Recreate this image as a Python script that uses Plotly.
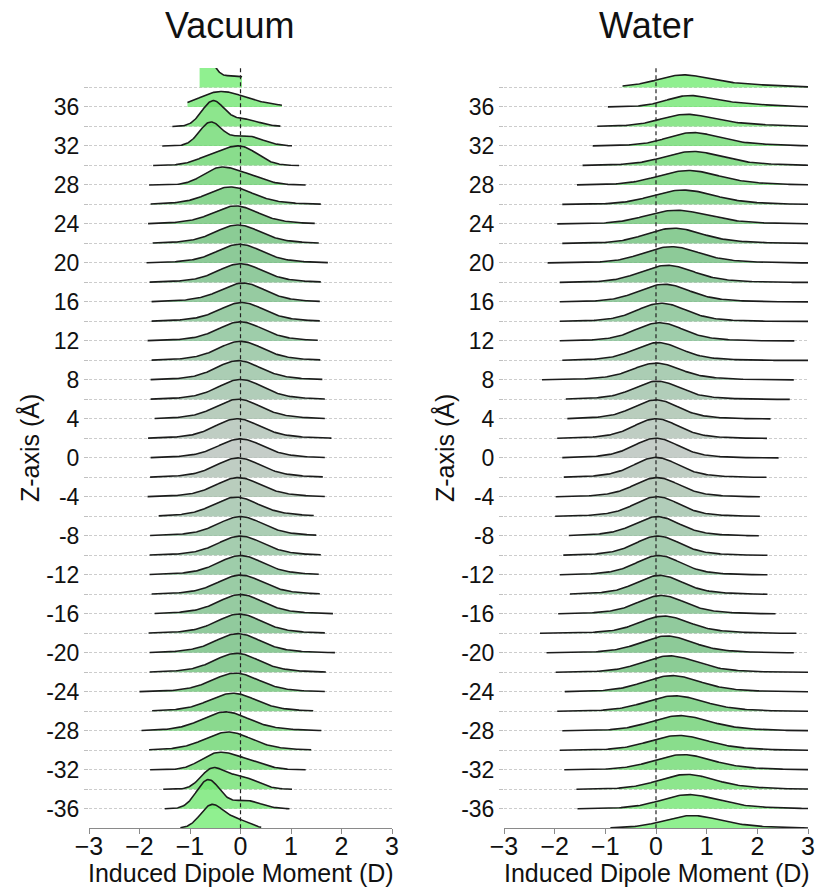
import numpy as np
import plotly.graph_objects as go

# ---------------- data ----------------
Z_LEVELS = list(range(38, -40, -2))          # ridge baselines (Å), top to bottom
Y_TICKS = list(range(-36, 40, 2))
X_TICKS = [-3, -2, -1, 0, 1, 2, 3]

# Vacuum: range of each density curve and its shape (mu, sigma, height in Å units)
VAC_XMIN = [-0.81, -1.05, -1.35, -1.55, -1.73, -1.81, -1.78, -1.83, -1.74, -1.86,
            -1.80, -1.76, -1.76, -1.84, -1.76, -1.78, -1.78, -1.70, -1.83, -1.78,
            -1.79, -1.84, -1.62, -1.79, -1.80, -1.80, -1.76, -1.70, -1.82, -1.80,
            -1.80, -2.00, -1.75, -1.96, -1.81, -1.79, -1.53, -1.50, -1.19]
VAC_XMAX = [0.03, 0.82, 0.79, 1.02, 1.16, 1.29, 1.59, 1.47, 1.55, 1.73,
            1.59, 1.57, 1.57, 1.53, 1.58, 1.62, 1.67, 1.67, 1.80, 1.67,
            1.63, 1.67, 1.45, 1.50, 1.59, 1.55, 1.57, 1.83, 1.67, 1.87,
            1.69, 1.67, 1.44, 1.60, 1.40, 1.29, 1.02, 0.97, 0.41]
VAC_SHAPE = [
    [(-0.75, 0.20, 3.50), (-0.10, 0.30, 1.20)],
    [(-0.45, 0.40, 1.30), (0.10, 0.50, 0.50)],
    [(-0.55, 0.22, 2.55), (0.05, 0.30, 0.75)],
    [(-0.60, 0.22, 2.35), (0.10, 0.33, 1.05)],
    [(0.05, 0.32, 1.65), (-0.50, 0.35, 1.00)],
    [(-0.45, 0.32, 1.50), (0.10, 0.36, 0.90)],
    [(-0.20, 0.40, 1.30), (-0.15, 0.75, 0.50)],
    [(-0.10, 0.40, 1.33), (-0.10, 0.75, 0.52)],
    [(-0.05, 0.40, 1.38), (-0.05, 0.75, 0.52)],
    [(-0.02, 0.40, 1.40), (0.00, 0.75, 0.52)],
    [(0.00, 0.40, 1.40), (0.00, 0.75, 0.52)],
    [(0.05, 0.40, 1.42), (0.00, 0.75, 0.52)],
    [(0.03, 0.40, 1.42), (0.00, 0.75, 0.52)],
    [(0.00, 0.40, 1.43), (0.00, 0.75, 0.53)],
    [(0.00, 0.40, 1.43), (0.00, 0.75, 0.53)],
    [(-0.05, 0.40, 1.45), (0.00, 0.75, 0.53)],
    [(0.00, 0.40, 1.50), (0.00, 0.75, 0.55)],
    [(-0.05, 0.40, 1.47), (0.00, 0.75, 0.55)],
    [(-0.07, 0.40, 1.47), (0.00, 0.75, 0.55)],
    [(0.00, 0.40, 1.42), (0.00, 0.75, 0.53)],
    [(-0.05, 0.40, 1.45), (0.00, 0.75, 0.55)],
    [(-0.05, 0.40, 1.43), (0.00, 0.75, 0.55)],
    [(-0.10, 0.40, 1.43), (0.00, 0.75, 0.55)],
    [(0.00, 0.40, 1.43), (0.00, 0.75, 0.55)],
    [(0.00, 0.40, 1.43), (0.00, 0.75, 0.55)],
    [(0.00, 0.40, 1.43), (0.00, 0.75, 0.55)],
    [(0.00, 0.40, 1.43), (0.00, 0.75, 0.55)],
    [(0.00, 0.40, 1.43), (0.00, 0.75, 0.55)],
    [(-0.03, 0.40, 1.43), (0.00, 0.75, 0.55)],
    [(-0.05, 0.40, 1.42), (-0.05, 0.75, 0.55)],
    [(-0.08, 0.40, 1.42), (-0.05, 0.75, 0.53)],
    [(-0.10, 0.42, 1.40), (-0.10, 0.75, 0.52)],
    [(-0.15, 0.42, 1.35), (-0.15, 0.75, 0.50)],
    [(-0.31, 0.42, 1.40), (-0.20, 0.75, 0.55)],
    [(-0.25, 0.42, 1.38), (-0.20, 0.75, 0.50)],
    [(-0.50, 0.32, 1.40), (0.05, 0.38, 0.95)],
    [(-0.58, 0.22, 1.75), (-0.05, 0.35, 1.35)],
    [(-0.64, 0.23, 2.95), (0.10, 0.30, 0.85)],
    [(-0.58, 0.22, 2.30), (-0.10, 0.25, 0.90)],
]

# Water
WAT_XMIN = [-0.66, -0.95, -1.16, -1.25, -1.45, -1.56, -1.85, -1.95, -1.85, -2.14,
            -1.90, -1.90, -1.90, -1.90, -1.85, -2.25, -1.78, -1.75, -1.95, -1.85,
            -1.82, -1.98, -1.99, -1.72, -1.83, -1.90, -1.70, -1.93, -2.29, -2.16,
            -1.98, -1.80, -1.95, -1.85, -1.90, -1.81, -1.57, -1.55, -0.90]
WAT_XMAX = [3.00, 3.00, 3.00, 3.00, 3.00, 3.00, 3.00, 3.00, 3.00, 3.00,
            3.00, 3.00, 3.00, 2.73, 3.00, 2.72, 2.64, 2.26, 2.19, 2.42,
            2.18, 2.05, 2.05, 2.03, 2.20, 2.20, 2.20, 2.36, 2.77, 2.72,
            3.00, 3.00, 3.00, 3.00, 3.00, 3.00, 3.00, 3.00, 3.00]
WAT_SHAPE = [
    [(0.50, 0.45, 0.85), (1.00, 1.00, 0.50)],
    [(0.60, 0.40, 0.80), (1.20, 0.75, 0.50)],
    [(0.55, 0.45, 0.85), (1.00, 0.85, 0.45)],
    [(0.70, 0.45, 0.95), (1.00, 0.85, 0.45)],
    [(0.70, 0.50, 1.00), (0.90, 0.90, 0.45)],
    [(0.60, 0.55, 1.10), (0.90, 0.90, 0.40)],
    [(0.50, 0.55, 1.10), (0.80, 0.90, 0.40)],
    [(0.37, 0.55, 1.05), (0.70, 0.90, 0.38)],
    [(0.33, 0.50, 1.20), (0.60, 0.90, 0.38)],
    [(0.28, 0.50, 1.28), (0.50, 0.90, 0.40)],
    [(0.20, 0.48, 1.35), (0.40, 0.85, 0.42)],
    [(0.15, 0.46, 1.40), (0.30, 0.85, 0.42)],
    [(0.10, 0.44, 1.42), (0.20, 0.80, 0.45)],
    [(0.06, 0.43, 1.42), (0.15, 0.80, 0.45)],
    [(0.03, 0.42, 1.38), (0.10, 0.80, 0.45)],
    [(0.00, 0.42, 1.25), (0.05, 0.85, 0.48)],
    [(0.02, 0.40, 1.38), (0.05, 0.80, 0.50)],
    [(0.00, 0.40, 1.45), (0.00, 0.75, 0.50)],
    [(0.00, 0.40, 1.50), (0.00, 0.75, 0.52)],
    [(0.00, 0.40, 1.50), (0.00, 0.75, 0.52)],
    [(0.00, 0.40, 1.52), (0.00, 0.75, 0.53)],
    [(0.02, 0.40, 1.46), (0.00, 0.75, 0.52)],
    [(0.02, 0.40, 1.50), (0.00, 0.75, 0.52)],
    [(0.02, 0.40, 1.46), (0.00, 0.75, 0.52)],
    [(0.03, 0.40, 1.46), (0.05, 0.75, 0.52)],
    [(0.05, 0.40, 1.46), (0.05, 0.75, 0.52)],
    [(0.07, 0.41, 1.43), (0.10, 0.78, 0.52)],
    [(0.10, 0.42, 1.38), (0.15, 0.80, 0.50)],
    [(0.15, 0.44, 1.30), (0.25, 0.85, 0.48)],
    [(0.20, 0.46, 1.27), (0.30, 0.85, 0.46)],
    [(0.25, 0.48, 1.25), (0.40, 0.88, 0.45)],
    [(0.30, 0.50, 1.23), (0.45, 0.90, 0.44)],
    [(0.35, 0.52, 1.18), (0.55, 0.90, 0.42)],
    [(0.45, 0.52, 1.15), (0.70, 0.90, 0.42)],
    [(0.42, 0.52, 1.12), (0.65, 0.90, 0.42)],
    [(0.50, 0.52, 1.15), (0.75, 0.90, 0.42)],
    [(0.58, 0.50, 1.12), (0.85, 0.90, 0.42)],
    [(0.62, 0.50, 1.05), (0.90, 0.90, 0.42)],
    [(0.68, 0.50, 0.95), (1.00, 0.90, 0.38)],
]

# ---------------- styling ----------------
FONT = "Liberation Sans, Arial, sans-serif"
W, H = 821, 889
# apparent fill colour vs |z|/38
COLOR_STOPS = [(0.0, (198, 206, 200)), (0.3, (160, 205, 172)), (0.55, (140, 202, 150)),
               (0.8, (138, 222, 140)), (1.0, (144, 240, 144))]
ALPHA = 0.8


def fill_color(z):
    t = abs(z) / 38.0
    for (t0, c0), (t1, c1) in zip(COLOR_STOPS[:-1], COLOR_STOPS[1:]):
        if t <= t1:
            f = (t - t0) / (t1 - t0)
            c = [c0[i] + f * (c1[i] - c0[i]) for i in range(3)]
            break
    raw = [max(0, min(255, (v - 255 * (1 - ALPHA)) / ALPHA)) for v in c]
    return "rgba(%d,%d,%d,%.2f)" % (raw[0], raw[1], raw[2], ALPHA)


def density(xs, comps):
    d = np.zeros_like(xs)
    for mu, s, a in comps:
        d += a * np.exp(-(xs - mu) ** 2 / (2 * s * s))
    return d


fig = go.Figure()

panels = [("x", "y", VAC_XMIN, VAC_XMAX, VAC_SHAPE),
          ("x2", "y2", WAT_XMIN, WAT_XMAX, WAT_SHAPE)]
for xa, ya, xmin, xmax, shape in panels:
    for z, lo, hi, comps in zip(Z_LEVELS, xmin, xmax, shape):
        xs = np.linspace(lo, hi, 160)
        ys = z + density(xs, comps)
        fig.add_trace(go.Scatter(
            x=np.concatenate([xs, [hi, lo]]), y=np.concatenate([ys, [z, z]]),
            fill="toself", fillcolor=fill_color(z), mode="none",
            xaxis=xa, yaxis=ya, showlegend=False, hoverinfo="skip"))
        fig.add_trace(go.Scatter(
            x=xs, y=ys, mode="lines", line=dict(color="#1c1c1c", width=1.6),
            xaxis=xa, yaxis=ya, showlegend=False, hoverinfo="skip"))

x_dom = [[89 / W, 392 / W], [504 / W, 808 / W]]
y_dom = [1 - 828.3 / H, 1 - 68 / H]

xcommon = dict(range=[-3, 3], tickvals=X_TICKS, showline=True, linecolor="#8a8a8a",
               linewidth=1, ticks="outside", ticklen=5, tickcolor="#8a8a8a",
               showgrid=False, zeroline=False, automargin=False,
               ticklabelstandoff=-9,
               tickfont=dict(family=FONT, size=25, color="#111"))
ycommon = dict(range=[-38, 40], tickvals=Y_TICKS,
               ticktext=[str(v) if v % 4 == 0 else "" for v in Y_TICKS],
               showgrid=True, gridcolor="#cdcdcd", griddash="3px,2px", gridwidth=1,
               ticks="outside", ticklen=4, tickcolor="#c0c0c0", showline=False,
               zeroline=False, automargin=False,
               tickfont=dict(family=FONT, size=23, color="#111"))

fig.update_layout(
    width=W, height=H, margin=dict(l=0, r=0, t=0, b=0, pad=0), autosize=False,
    paper_bgcolor="white", plot_bgcolor="white",
    xaxis=dict(domain=x_dom[0], anchor="y", **xcommon),
    xaxis2=dict(domain=x_dom[1], anchor="y2", **xcommon),
    yaxis=dict(domain=y_dom, anchor="x", **ycommon),
    yaxis2=dict(domain=y_dom, anchor="x2", **ycommon),
)

for xa in ["x", "x2"]:
    fig.add_shape(type="line", xref=xa, yref=("y domain" if xa == "x" else "y2 domain"),
                  x0=0, x1=0, y0=0, y1=1, layer="above",
                  line=dict(color="#222", width=1.2, dash="4px,3px"))

ann = [
    ("Vacuum", 230, 25.5, 36, 0),
    ("Water", 646, 25.5, 36, 0),
    ("Induced Dipole Moment (D)", 241, 873, 25, 0),
    ("Induced Dipole Moment (D)", 657, 873, 25, 0),
    ("Z-axis (Å)", 29, 448, 25, -90),
    ("Z-axis (Å)", 444, 448, 25, -90),
]
for text, px, py, size, ang in ann:
    fig.add_annotation(text=text, xref="paper", yref="paper", x=px / W, y=1 - py / H,
                       xanchor="center", yanchor="middle", showarrow=False,
                       textangle=ang, font=dict(family=FONT, size=size, color="#111"))

fig.write_html("out.html")
